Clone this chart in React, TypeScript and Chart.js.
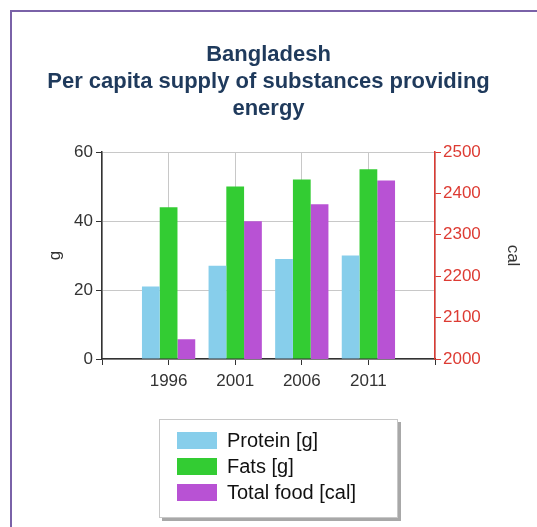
import React, { useEffect, useRef } from "react";
import { Chart, registerables } from "chart.js";

Chart.register(...registerables);

const titleLines = ["Bangladesh", "Per capita supply of substances providing", "energy"];
const years = ["1991", "1996", "2001", "2006", "2011", "2016"];
const protein = [null, 21, 27, 29, 30, null];
const fats = [null, 44, 50, 52, 55, null];
const totalFood = [null, 2048, 2333, 2374, 2431, null];
const seriesLabels = ["Protein [g]", "Fats [g]", "Total food [cal]"];
const seriesColors = ["#87ceeb", "#33cc33", "#b852d4"];
const leftTitle = "g";
const rightTitle = "cal";

const FONT = "'Liberation Sans', Arial, sans-serif";
const RED = "#dd3b33";

const framePlugin = {
  id: "frame",
  beforeDraw(chart: any) {
    const ctx = chart.ctx;
    ctx.save();
    ctx.fillStyle = "#ffffff";
    ctx.fillRect(0, 0, chart.width, chart.height);
    ctx.strokeStyle = "#7a62a8";
    ctx.lineWidth = 2;
    ctx.strokeRect(11, 11, chart.width + 40, chart.height + 40);
    ctx.restore();
  },
};

const boxLegendPlugin = {
  id: "boxLegend",
  afterDraw(chart: any) {
    const ctx = chart.ctx;
    const x = 159, y = 419, w = 239, h = 99;
    ctx.save();
    ctx.fillStyle = "#a8a8a8";
    ctx.fillRect(x + 3, y + 3, w, h);
    ctx.fillStyle = "#ffffff";
    ctx.fillRect(x, y, w, h);
    ctx.strokeStyle = "#c8c8c8";
    ctx.lineWidth = 1;
    ctx.strokeRect(x + 0.5, y + 0.5, w - 1, h - 1);
    ctx.font = `20px ${FONT}`;
    ctx.textBaseline = "middle";
    ctx.textAlign = "left";
    chart.data.datasets.forEach((ds: any, i: number) => {
      const cy = 440 + i * 26;
      ctx.fillStyle = ds.backgroundColor;
      ctx.fillRect(177, cy - 8, 40, 17);
      ctx.fillStyle = "#111111";
      ctx.fillText(ds.label, 227, cy + 1);
    });
    ctx.restore();
  },
};

export default function App() {
  const ref = useRef<HTMLCanvasElement>(null);
  useEffect(() => {
    if (!ref.current) return;
    const chart = new Chart(ref.current, {
      type: "bar",
      data: {
        labels: years,
        datasets: [
          { label: seriesLabels[0], data: protein, backgroundColor: seriesColors[0], yAxisID: "y" },
          { label: seriesLabels[1], data: fats, backgroundColor: seriesColors[1], yAxisID: "y" },
          { label: seriesLabels[2], data: totalFood, backgroundColor: seriesColors[2], yAxisID: "y2" },
        ],
      },
      options: {
        responsive: false,
        animation: false,
        layout: { padding: 0 },
        datasets: { bar: { categoryPercentage: 0.8, barPercentage: 1 } },
        plugins: {
          legend: { display: false },
          tooltip: { enabled: false },
          title: {
            display: true,
            text: titleLines,
            color: "#1f3a5c",
            font: { family: FONT, size: 22, weight: "bold", lineHeight: 27 / 22 },
            padding: { top: 41.5, bottom: 29.5 },
          },
        },
        scales: {
          x: {
            offset: false,
            afterFit: (s: any) => { s.height = 168; },
            grid: { offset: false, color: "#c8c8c8", tickColor: "#333333", tickLength: 6 },
            border: { color: "#333333", width: 1.5 },
            ticks: {
              color: "#333333",
              font: { family: FONT, size: 17 },
              padding: 6,
              maxRotation: 0,
              autoSkip: false,
              callback: (_v: any, i: number) => (i === 0 || i === years.length - 1 ? "" : years[i]),
            },
          },
          y: {
            position: "left",
            min: 0,
            max: 60,
            afterFit: (s: any) => { s.width = 102; },
            grid: { color: "#c8c8c8", tickColor: "#333333", tickLength: 6 },
            border: { color: "#333333", width: 1.5 },
            ticks: { stepSize: 20, color: "#333333", font: { family: FONT, size: 17 }, padding: 3 },
            title: {
              display: true,
              text: leftTitle,
              color: "#333333",
              font: { family: FONT, size: 17 },
              padding: { top: 45, bottom: 0 },
            },
          },
          y2: {
            position: "right",
            min: 2000,
            max: 2500,
            afterFit: (s: any) => { s.width = 102; },
            grid: { drawOnChartArea: false, tickColor: RED, tickLength: 6 },
            border: { color: RED, width: 1.5 },
            ticks: {
              stepSize: 100,
              color: RED,
              font: { family: FONT, size: 17 },
              padding: 2,
              callback: (v: any) => String(v),
            },
            title: {
              display: true,
              text: rightTitle,
              color: "#333333",
              font: { family: FONT, size: 17 },
              padding: { top: 14, bottom: 0 },
            },
          },
        },
      } as any,
      plugins: [framePlugin, boxLegendPlugin],
    });
    return () => chart.destroy();
  }, []);
  return (
    <div style={{ position: "fixed", left: 0, top: 0, width: 537, height: 527, background: "#fff" }}>
      <canvas ref={ref} width={537} height={527} style={{ display: "block" }} />
    </div>
  );
}
